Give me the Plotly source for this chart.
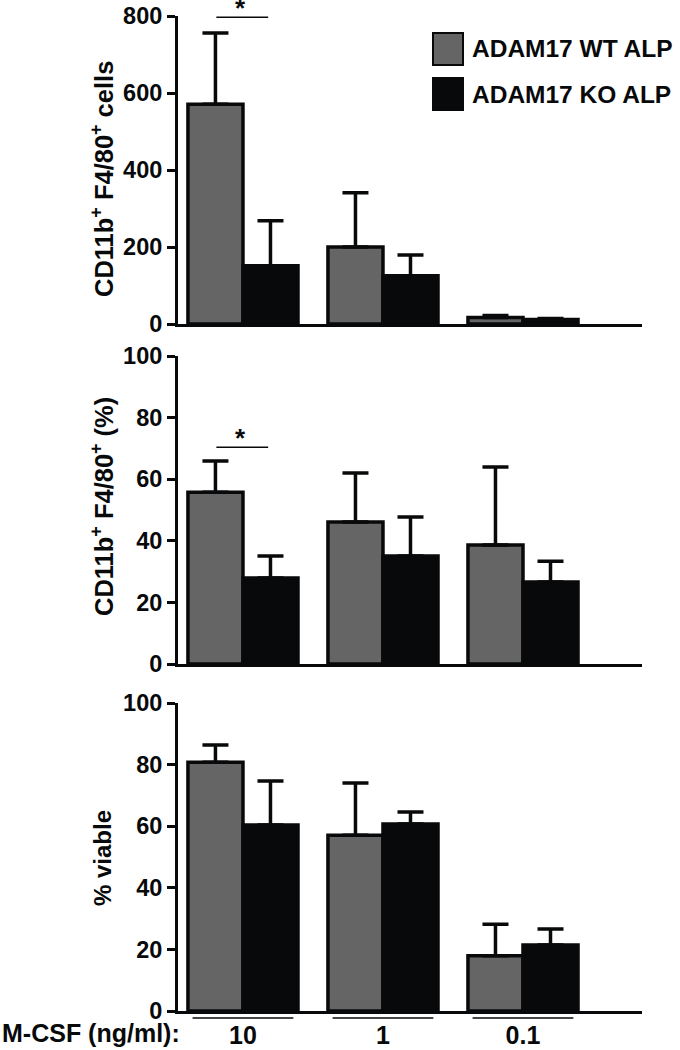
import plotly.graph_objects as go

# ---------------- data ----------------
doses = ["10", "1", "0.1"]
series_names = ["ADAM17 WT ALP", "ADAM17 KO ALP"]

cells_wt = [571, 200, 17]
cells_wt_err = [185, 141, 5]
cells_ko = [151, 125, 12]
cells_ko_err = [117, 54, 2]

pct_wt = [55.8, 46.1, 38.6]
pct_wt_err = [10.1, 15.9, 25.4]
pct_ko = [27.9, 35.1, 26.6]
pct_ko_err = [7.2, 12.6, 6.8]

viable_wt = [80.8, 57.1, 17.9]
viable_wt_err = [5.6, 16.9, 10.3]
viable_ko = [60.4, 60.7, 21.4]
viable_ko_err = [14.3, 3.9, 5.2]

cells_ticks = [0, 200, 400, 600, 800]
pct_ticks = [0, 20, 40, 60, 80, 100]

y_titles = ["CD11b<sup>+</sup> F4/80<sup>+</sup> cells",
            "CD11b<sup>+</sup> F4/80<sup>+</sup> (%)",
            "% viable"]
x_title = "M-CSF (ng/ml):"

# ---------------- styling ----------------
W, H = 680, 1050
FONT = "Liberation Sans, Arial, sans-serif"
GRAY = "#656565"
BLACK = "#08090a"
colors = [GRAY, BLACK]


def px(x):
    return x / W


def py(y):
    return 1 - y / H


panels = [
    dict(wt=cells_wt, wte=cells_wt_err, ko=cells_ko, koe=cells_ko_err,
         rng=[0, 800], ticks=cells_ticks, dom=[py(324), py(16)]),
    dict(wt=pct_wt, wte=pct_wt_err, ko=pct_ko, koe=pct_ko_err,
         rng=[0, 100], ticks=pct_ticks, dom=[py(664), py(356)]),
    dict(wt=viable_wt, wte=viable_wt_err, ko=viable_ko, koe=viable_ko_err,
         rng=[0, 100], ticks=pct_ticks, dom=[py(1011), py(703)]),
]

fig = go.Figure()
layout = {}
x_dom = [px(178), px(642)]
x_rng = [-0.464, 2.85]

for i, p in enumerate(panels):
    sfx = "" if i == 0 else str(i + 1)
    for name, vals, errs, col in [(series_names[0], p["wt"], p["wte"], colors[0]),
                                  (series_names[1], p["ko"], p["koe"], colors[1])]:
        fig.add_trace(go.Bar(
            x=doses, y=vals, name=name, showlegend=False,
            xaxis="x" + sfx, yaxis="y" + sfx,
            marker=dict(color=col, line=dict(color=BLACK, width=3.5)),
            error_y=dict(type="data", symmetric=False, array=errs,
                         arrayminus=[0] * len(errs), color=BLACK,
                         thickness=3.5, width=13),
            cliponaxis=False,
        ))
    layout["xaxis" + sfx] = dict(
        domain=x_dom, anchor="y" + sfx, type="category", range=x_rng,
        showline=True, linecolor=BLACK, linewidth=3, ticks="",
        showticklabels=(i == 2), showgrid=False, zeroline=False,
        automargin=False,
        tickfont=dict(family=FONT, size=25, color=BLACK, weight="bold"),
        ticklabelstandoff=0,
    )
    layout["yaxis" + sfx] = dict(
        domain=p["dom"], anchor="x" + sfx, range=p["rng"], tickvals=p["ticks"],
        showline=True, linecolor=BLACK, linewidth=3, ticks="outside",
        ticklen=8, tickwidth=3, tickcolor=BLACK, showgrid=False, zeroline=False,
        automargin=False,
        tickfont=dict(family=FONT, size=23.5, color=BLACK, weight="bold"),
    )

annotations = []
shapes = []

# y-axis titles
for txt, yc, fs in zip(y_titles, [179, 507, 858], [25.5, 25.5, 24]):
    annotations.append(dict(
        text=txt, xref="paper", yref="paper", x=px(102), y=py(yc),
        xanchor="center", yanchor="middle", textangle=-90, showarrow=False,
        font=dict(family=FONT, size=fs, color=BLACK, weight="bold")))

# x-axis title
annotations.append(dict(
    text=x_title, xref="paper", yref="paper", x=0, y=py(1033),
    xanchor="left", yanchor="middle", showarrow=False,
    font=dict(family=FONT, size=25, color=BLACK, weight="bold")))

# group underlines under bottom axis
for i in range(len(doses)):
    shapes.append(dict(type="line", xref="x3", yref="paper",
                       x0=i - 0.36, x1=i + 0.36, y0=py(1018), y1=py(1018),
                       line=dict(color=BLACK, width=1.5)))

# significance markers
for ax, yv in [("", 797), ("2", 70.4)]:
    shapes.append(dict(type="line", xref="x" + ax, yref="y" + ax,
                       x0=-0.19, x1=0.18, y0=yv, y1=yv,
                       line=dict(color=BLACK, width=1.5)))
    annotations.append(dict(text="*", xref="x" + ax, yref="y" + ax,
                            x=-0.02, y=yv, yanchor="bottom", showarrow=False,
                            yshift=-8,
                            font=dict(family=FONT, size=26, color=BLACK, weight="bold")))

# legend (drawn manually to match the large swatches)
for name, col, y0, y1 in [(series_names[0], colors[0], 33, 65),
                          (series_names[1], colors[1], 78, 110)]:
    shapes.append(dict(type="rect", xref="paper", yref="paper",
                       x0=px(433), x1=px(463), y0=py(y1), y1=py(y0),
                       fillcolor=col, line=dict(color=BLACK, width=2)))
    annotations.append(dict(text=name, xref="paper", yref="paper",
                            x=px(470), y=py((y0 + y1) / 2),
                            xanchor="left", yanchor="middle", showarrow=False,
                            font=dict(family=FONT, size=24.5, color=BLACK, weight="bold")))

fig.update_layout(
    width=W, height=H, autosize=False,
    margin=dict(l=0, r=0, t=0, b=0, pad=0, autoexpand=False),
    paper_bgcolor="white", plot_bgcolor="white",
    barmode="group", bargap=0.214, bargroupgap=0,
    annotations=annotations, shapes=shapes,
    font=dict(family=FONT, color=BLACK),
    **layout,
)

# let the figure fill the window exactly (remove the default page margin)
fig.write_html("out.html",
               config={"displayModeBar": False},
               post_script="document.body.style.margin='0px';")
